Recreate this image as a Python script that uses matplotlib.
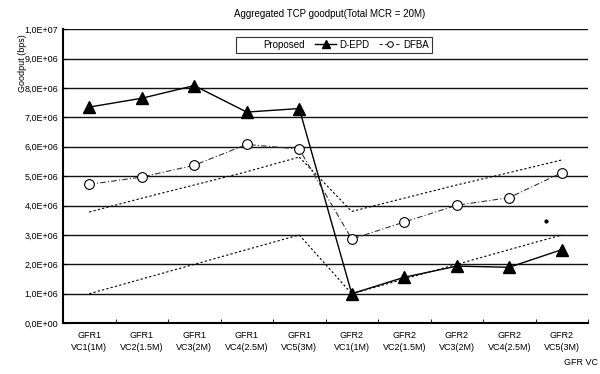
import numpy as np
import matplotlib.pyplot as plt
from matplotlib.lines import Line2D
from matplotlib.ticker import FuncFormatter

plt.rcParams['font.family'] = ['Liberation Sans', 'DejaVu Sans']

categories = ['GFR1\nVC1(1M)', 'GFR1\nVC2(1.5M)', 'GFR1\nVC3(2M)', 'GFR1\nVC4(2.5M)', 'GFR1\nVC5(3M)',
              'GFR2\nVC1(1M)', 'GFR2\nVC2(1.5M)', 'GFR2\nVC3(2M)', 'GFR2\nVC4(2.5M)', 'GFR2\nVC5(3M)']
# goodput in bps
proposed_low = [1.0e6, 1.5e6, 2.0e6, 2.5e6, 3.0e6, 1.0e6, 1.5e6, 2.0e6, 2.5e6, 3.0e6]
proposed_high = [3.78e6, 4.25e6, 4.7e6, 5.15e6, 5.65e6, 3.8e6, 4.25e6, 4.7e6, 5.12e6, 5.55e6]
depd = [7.35e6, 7.65e6, 8.08e6, 7.18e6, 7.3e6, 1.0e6, 1.56e6, 1.94e6, 1.9e6, 2.5e6]
dfba = [4.72e6, 4.97e6, 5.37e6, 6.08e6, 5.92e6, 2.86e6, 3.44e6, 4.01e6, 4.27e6, 5.12e6]
stray = (8.7, 3.47e6)

x = np.arange(len(categories))

fig = plt.figure(figsize=(6, 3.74), dpi=100)
ax = fig.add_axes([0.105, 0.136, 0.875, 0.786])

for v in np.arange(1e6, 1.01e7, 1e6):
    ax.axhline(v, color='#111111', lw=1.0, zorder=0)

dot = (0, (2, 2))
for seg in (slice(0, 5), slice(5, 10)):
    ax.plot(x[seg], proposed_low[seg], color='black', lw=0.8, ls=dot)
    ax.plot(x[seg], proposed_high[seg], color='black', lw=0.8, ls=dot)
# drop lines between the two groups
ax.plot(x[4:6], proposed_low[4:6], color='black', lw=0.8, ls=dot)
ax.plot(x[4:6], proposed_high[4:6], color='black', lw=0.8, ls=dot)

ax.plot(x, dfba, color='#333333', lw=0.8, ls=(0, (5, 2, 1, 2)),
        marker='o', ms=7, mfc='white', mec='black', mew=0.8)
ax.plot(x, depd, color='black', lw=1.0, marker='^', ms=8, mfc='black', mec='black')
ax.plot(*stray, marker='o', ms=2, color='black')

ax.set_xlim(-0.5, 9.5)
ax.set_ylim(0, 1e7)
ax.set_yticks(np.arange(0, 1.01e7, 1e6))
ax.yaxis.set_major_formatter(FuncFormatter(
    lambda v, p: ('%.1E' % v).replace('.', ',')))
ax.set_xticks(x)
ax.set_xticklabels(categories, fontsize=6.5, linespacing=1.35)
ax.set_xticks(np.arange(-0.5, 9.6, 1), minor=True)
ax.tick_params(axis='x', which='major', length=0, pad=6)
ax.tick_params(axis='x', which='minor', length=3, direction='in')
ax.tick_params(axis='y', labelsize=6.5, length=3, direction='in')

for s in ('top', 'right'):
    ax.spines[s].set_visible(False)
ax.spines['left'].set_linewidth(1.5)
ax.spines['bottom'].set_linewidth(1.5)

fig.text(0.55, 0.962, 'Aggregated TCP goodput(Total MCR = 20M)', ha='center',
         va='center', fontsize=7)
fig.text(0.038, 0.83, 'Goodput (bps)', rotation=90, ha='center', va='center',
         fontsize=6.5)
fig.text(0.968, 0.03, 'GFR VC', ha='center', va='center', fontsize=6.5)

handles = [Line2D([], [], color='white', lw=0.8),
           Line2D([], [], color='black', lw=1.0, marker='^', ms=6, mfc='black'),
           Line2D([], [], color='#333333', lw=0.8, ls=(0, (3, 2)), marker='o', ms=4,
                  mfc='white', mec='black', mew=0.7)]
leg = fig.legend(handles, ['Proposed', 'D-EPD', 'DFBA'], loc='center',
                 bbox_to_anchor=(0.557, 0.88), ncol=3, fontsize=7, frameon=True,
                 fancybox=False, edgecolor='black', handlelength=2.2,
                 handletextpad=0.3, columnspacing=1.0, borderpad=0.3)
leg.get_frame().set_linewidth(0.8)

fig.savefig('out.png', dpi=100)
